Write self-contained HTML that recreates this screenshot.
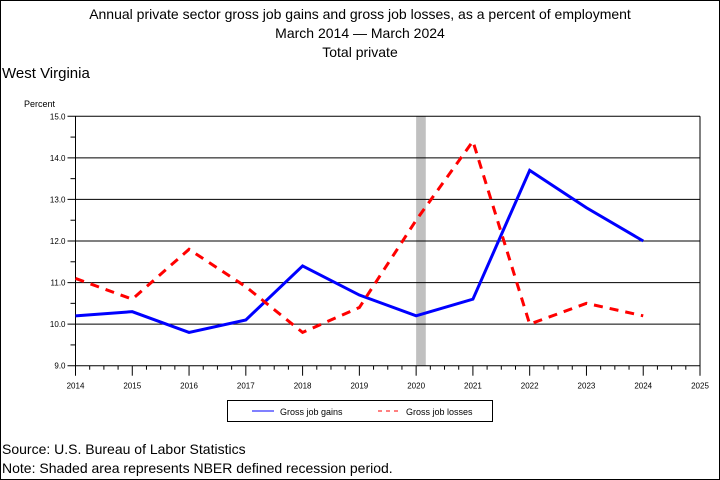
<!DOCTYPE html>
<html><head><meta charset="utf-8"><style>
body{margin:0;background:#fff}
svg{display:block;font-family:"Liberation Sans",sans-serif}
</style></head><body>
<svg width="720" height="480">
<rect x="0.5" y="0.5" width="719" height="479" fill="#fff" stroke="#000"/>
<text x="360" y="19" font-size="14" text-anchor="middle">Annual private sector gross job gains and gross job losses, as a percent of employment</text>
<text x="360" y="38" font-size="14" text-anchor="middle">March 2014 — March 2024</text>
<text x="360" y="57" font-size="14" text-anchor="middle">Total private</text>
<text x="2" y="78" font-size="15">West Virginia</text>
<text x="24" y="107" font-size="9">Percent</text>
<g id="plot"></g>
<g>
<rect x="227.5" y="400.5" width="265" height="21" fill="none" stroke="#000"/>
<line x1="252" y1="411" x2="274" y2="411" stroke="#00f" stroke-width="1"/>
<text x="280" y="415" font-size="9">Gross job gains</text>
<line x1="378" y1="411" x2="400" y2="411" stroke="#f00" stroke-width="1" stroke-dasharray="4,4"/>
<text x="406" y="415" font-size="9">Gross job losses</text>
</g>
<text x="2" y="454" font-size="14">Source: U.S. Bureau of Labor Statistics</text>
<text x="2" y="473" font-size="14">Note: Shaded area represents NBER defined recession period.</text>
</svg>
<script>
const years=[2014,2015,2016,2017,2018,2019,2020,2021,2022,2023,2024];
const gains=[10.2,10.3,9.8,10.1,11.4,10.7,10.2,10.6,13.7,12.8,12.0];
const losses=[11.1,10.6,11.8,10.9,9.8,10.4,12.5,14.4,10.0,10.5,10.2];
const yTicks=[9,10,11,12,13,14,15];
const xTicks=[2014,2015,2016,2017,2018,2019,2020,2021,2022,2023,2024,2025];
const recession=[2020.0,2020.17];
const X0=75.5,X1=700,Y0=365.7,Y1=116.3;
const sx=v=>X0+(v-2014)/(2025-2014)*(X1-X0);
const sy=v=>Y0-(v-9)/(15-9)*(Y0-Y1);
const g=document.getElementById('plot');
const NS='http://www.w3.org/2000/svg';
function mk(t,a){const e=document.createElementNS(NS,t);for(const k in a)e.setAttribute(k,a[k]);g.appendChild(e);return e;}
let r=mk('rect',{x:sx(recession[0]),y:Y1,width:sx(recession[1])-sx(recession[0]),height:Y0-Y1,fill:'#c0c0c0'});


yTicks.forEach(v=>{
 const l=mk('line',{x1:X0-8,x2:X1,y1:sy(v),y2:sy(v),stroke:'#000','stroke-width':1});
 
 
 if(v<15){const m=mk('line',{x1:X0-5,x2:X0,y1:sy(v+0.5),y2:sy(v+0.5),stroke:'#000'});
 
 }
 const t=mk('text',{x:X0-10,y:sy(v)+3,'font-size':8,'text-anchor':'end'});
 t.textContent=v.toFixed(1);
 
 
});
const ax=mk('line',{x1:X0,x2:X0,y1:Y1,y2:Y0+5,stroke:'#000'});


const ax2=mk('line',{x1:X1,x2:X1,y1:Y1,y2:Y0+5,stroke:'#000'});


xTicks.forEach((v,i)=>{
 const l=mk('line',{x1:sx(v),x2:sx(v),y1:Y0,y2:Y0+10,stroke:'#000'});
 
 
 if(i<xTicks.length-1)[0.25,0.5,0.75].forEach(f=>{const m=mk('line',{x1:sx(v+f),x2:sx(v+f),y1:Y0,y2:Y0+4,stroke:'#000'});
 
 });
 const t=mk('text',{x:sx(v),y:Y0+23,'font-size':8,'text-anchor':'middle'});
 t.textContent=v;
 
 
});
const pts=a=>a.map((v,i)=>sx(years[i])+','+sy(v)).join(' ');
const pg=mk('polyline',{points:pts(gains),fill:'none',stroke:'#00f','stroke-width':3});


const pl=mk('polyline',{points:pts(losses),fill:'none',stroke:'#f00','stroke-width':3,'stroke-dasharray':'9,7'});


</script>
</body></html>
